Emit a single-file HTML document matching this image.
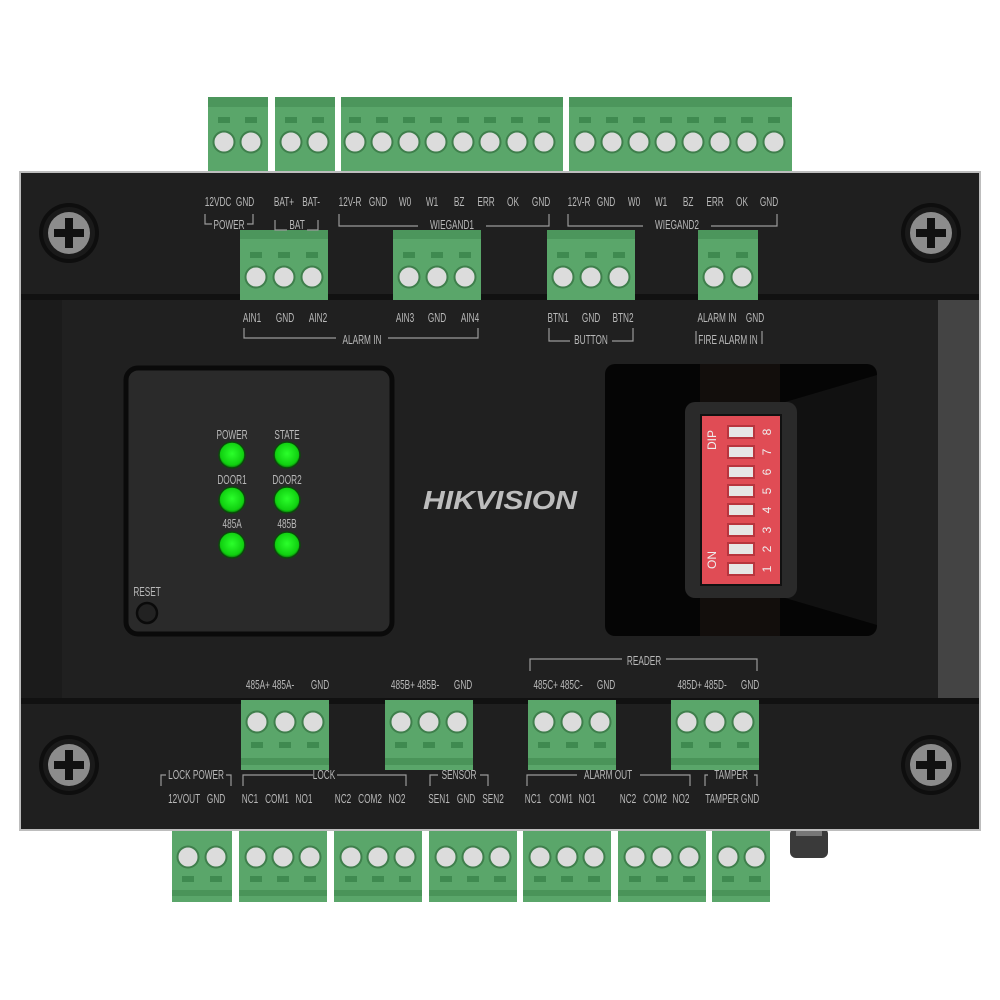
<!DOCTYPE html>
<html><head><meta charset="utf-8"><style>
html,body{margin:0;padding:0;background:#fff;width:1000px;height:1000px;overflow:hidden}
svg{display:block}
.t text{font-family:"Liberation Sans",sans-serif;font-size:12.5px;fill:#b8b8b8;text-anchor:middle;transform:scaleX(0.66);transform-box:fill-box;transform-origin:center}
.l{fill:none;stroke:#9a9a9a;stroke-width:1.2}
</style></head><body>
<svg width="1000" height="1000" viewBox="0 0 1000 1000" xmlns="http://www.w3.org/2000/svg">
<defs>
<radialGradient id="led" cx="50%" cy="45%" r="55%"><stop offset="0" stop-color="#2bff2b"/><stop offset="0.8" stop-color="#10d010"/><stop offset="1" stop-color="#0a6a0a"/></radialGradient>
<linearGradient id="side" x1="0" x2="1"><stop offset="0" stop-color="#1e1e1e"/><stop offset="0.5" stop-color="#262626"/><stop offset="1" stop-color="#1c1c1c"/></linearGradient>
<g id="c"><circle r="10.5" fill="#dcdcdc" stroke="#3f7f4c" stroke-width="2"/></g>
<g id="sl"><rect x="-6" y="-3" width="12" height="6" fill="#3f8a50"/></g>
<g id="screw"><circle r="30" fill="#0e0e0e"/><circle r="26" fill="#1a1a1a"/><circle r="21" fill="#8c8c8c"/><rect x="-15" y="-4" width="30" height="8" fill="#111"/><rect x="-4" y="-15" width="8" height="30" fill="#111"/></g>
</defs>

<g>
<rect x="208" y="97" width="60" height="76" fill="#5aa66a"/><rect x="275" y="97" width="60" height="76" fill="#5aa66a"/>
<rect x="341" y="97" width="222" height="76" fill="#5aa66a"/><rect x="569" y="97" width="223" height="76" fill="#5aa66a"/>
<g fill="#4c965c"><rect x="208" y="97" width="60" height="10"/><rect x="275" y="97" width="60" height="10"/><rect x="341" y="97" width="222" height="10"/><rect x="569" y="97" width="223" height="10"/></g>
</g>
<g fill="#5aa66a">
<rect x="172" y="828" width="60" height="74"/><rect x="239" y="828" width="88" height="74"/><rect x="334" y="828" width="88" height="74"/><rect x="429" y="828" width="88" height="74"/><rect x="523" y="828" width="88" height="74"/><rect x="618" y="828" width="88" height="74"/><rect x="712" y="828" width="58" height="74"/>
</g>
<g fill="#4a9459"><rect x="172" y="890" width="60" height="6"/><rect x="239" y="890" width="88" height="6"/><rect x="334" y="890" width="88" height="6"/><rect x="429" y="890" width="88" height="6"/><rect x="523" y="890" width="88" height="6"/><rect x="618" y="890" width="88" height="6"/><rect x="712" y="890" width="58" height="6"/></g>
<rect x="790" y="828" width="38" height="30" rx="6" fill="#3a3a3a"/><rect x="796" y="826" width="26" height="10" fill="#777"/>

<rect x="19" y="171" width="962" height="660" fill="#bdbdbd"/>
<rect x="21" y="173" width="958" height="656" fill="#1e1e1e"/>
<rect x="21" y="298" width="958" height="402" fill="#1b1b1b"/>
<rect x="62" y="300" width="876" height="398" fill="#202020"/>
<rect x="938" y="300" width="41" height="398" fill="#444"/>
<rect x="21" y="173" width="958" height="124" fill="#1f1f1f"/>
<rect x="21" y="294" width="958" height="6" fill="#111"/>
<rect x="21" y="700" width="958" height="129" fill="#1f1f1f"/>
<rect x="21" y="698" width="958" height="6" fill="#111"/>

<use href="#screw" x="69" y="233"/><use href="#screw" x="931" y="233"/>
<use href="#screw" x="69" y="765"/><use href="#screw" x="931" y="765"/>

<g fill="#5aa66a"><rect x="240" y="230" width="88" height="70"/><rect x="393" y="230" width="88" height="70"/><rect x="547" y="230" width="88" height="70"/><rect x="698" y="230" width="60" height="70"/></g>
<g fill="#4c965c"><rect x="240" y="230" width="88" height="9"/><rect x="393" y="230" width="88" height="9"/><rect x="547" y="230" width="88" height="9"/><rect x="698" y="230" width="60" height="9"/></g>
<g fill="#5aa66a"><rect x="241" y="700" width="88" height="70"/><rect x="385" y="700" width="88" height="70"/><rect x="528" y="700" width="88" height="70"/><rect x="671" y="700" width="88" height="70"/></g>
<g fill="#4a9459"><rect x="241" y="758" width="88" height="7"/><rect x="385" y="758" width="88" height="7"/><rect x="528" y="758" width="88" height="7"/><rect x="671" y="758" width="88" height="7"/></g>

<g>
<use href="#sl" x="224" y="120"/><use href="#sl" x="251" y="120"/><use href="#sl" x="291" y="120"/><use href="#sl" x="318" y="120"/>
<use href="#sl" x="355" y="120"/><use href="#sl" x="382" y="120"/><use href="#sl" x="409" y="120"/><use href="#sl" x="436" y="120"/><use href="#sl" x="463" y="120"/><use href="#sl" x="490" y="120"/><use href="#sl" x="517" y="120"/><use href="#sl" x="544" y="120"/>
<use href="#sl" x="585" y="120"/><use href="#sl" x="612" y="120"/><use href="#sl" x="639" y="120"/><use href="#sl" x="666" y="120"/><use href="#sl" x="693" y="120"/><use href="#sl" x="720" y="120"/><use href="#sl" x="747" y="120"/><use href="#sl" x="774" y="120"/>
<use href="#c" x="224" y="142"/><use href="#c" x="251" y="142"/><use href="#c" x="291" y="142"/><use href="#c" x="318" y="142"/>
<use href="#c" x="355" y="142"/><use href="#c" x="382" y="142"/><use href="#c" x="409" y="142"/><use href="#c" x="436" y="142"/><use href="#c" x="463" y="142"/><use href="#c" x="490" y="142"/><use href="#c" x="517" y="142"/><use href="#c" x="544" y="142"/>
<use href="#c" x="585" y="142"/><use href="#c" x="612" y="142"/><use href="#c" x="639" y="142"/><use href="#c" x="666" y="142"/><use href="#c" x="693" y="142"/><use href="#c" x="720" y="142"/><use href="#c" x="747" y="142"/><use href="#c" x="774" y="142"/>

<use href="#sl" x="256" y="255"/><use href="#sl" x="284" y="255"/><use href="#sl" x="312" y="255"/>
<use href="#sl" x="409" y="255"/><use href="#sl" x="437" y="255"/><use href="#sl" x="465" y="255"/>
<use href="#sl" x="563" y="255"/><use href="#sl" x="591" y="255"/><use href="#sl" x="619" y="255"/>
<use href="#sl" x="714" y="255"/><use href="#sl" x="742" y="255"/>
<use href="#c" x="256" y="277"/><use href="#c" x="284" y="277"/><use href="#c" x="312" y="277"/>
<use href="#c" x="409" y="277"/><use href="#c" x="437" y="277"/><use href="#c" x="465" y="277"/>
<use href="#c" x="563" y="277"/><use href="#c" x="591" y="277"/><use href="#c" x="619" y="277"/>
<use href="#c" x="714" y="277"/><use href="#c" x="742" y="277"/>

<use href="#c" x="257" y="722"/><use href="#c" x="285" y="722"/><use href="#c" x="313" y="722"/>
<use href="#c" x="401" y="722"/><use href="#c" x="429" y="722"/><use href="#c" x="457" y="722"/>
<use href="#c" x="544" y="722"/><use href="#c" x="572" y="722"/><use href="#c" x="600" y="722"/>
<use href="#c" x="687" y="722"/><use href="#c" x="715" y="722"/><use href="#c" x="743" y="722"/>
<use href="#sl" x="257" y="745"/><use href="#sl" x="285" y="745"/><use href="#sl" x="313" y="745"/>
<use href="#sl" x="401" y="745"/><use href="#sl" x="429" y="745"/><use href="#sl" x="457" y="745"/>
<use href="#sl" x="544" y="745"/><use href="#sl" x="572" y="745"/><use href="#sl" x="600" y="745"/>
<use href="#sl" x="687" y="745"/><use href="#sl" x="715" y="745"/><use href="#sl" x="743" y="745"/>

<use href="#c" x="188" y="857"/><use href="#c" x="216" y="857"/>
<use href="#c" x="256" y="857"/><use href="#c" x="283" y="857"/><use href="#c" x="310" y="857"/>
<use href="#c" x="351" y="857"/><use href="#c" x="378" y="857"/><use href="#c" x="405" y="857"/>
<use href="#c" x="446" y="857"/><use href="#c" x="473" y="857"/><use href="#c" x="500" y="857"/>
<use href="#c" x="540" y="857"/><use href="#c" x="567" y="857"/><use href="#c" x="594" y="857"/>
<use href="#c" x="635" y="857"/><use href="#c" x="662" y="857"/><use href="#c" x="689" y="857"/>
<use href="#c" x="728" y="857"/><use href="#c" x="755" y="857"/>
<use href="#sl" x="188" y="879"/><use href="#sl" x="216" y="879"/>
<use href="#sl" x="256" y="879"/><use href="#sl" x="283" y="879"/><use href="#sl" x="310" y="879"/>
<use href="#sl" x="351" y="879"/><use href="#sl" x="378" y="879"/><use href="#sl" x="405" y="879"/>
<use href="#sl" x="446" y="879"/><use href="#sl" x="473" y="879"/><use href="#sl" x="500" y="879"/>
<use href="#sl" x="540" y="879"/><use href="#sl" x="567" y="879"/><use href="#sl" x="594" y="879"/>
<use href="#sl" x="635" y="879"/><use href="#sl" x="662" y="879"/><use href="#sl" x="689" y="879"/>
<use href="#sl" x="728" y="879"/><use href="#sl" x="755" y="879"/>
</g>

<rect x="126" y="368" width="266" height="266" rx="12" fill="#2a2a2a" stroke="#0a0a0a" stroke-width="5"/>
<g class="t">
<text x="232" y="439">POWER</text><text x="287" y="439">STATE</text>
<text x="232" y="484">DOOR1</text><text x="287" y="484">DOOR2</text>
<text x="232" y="528">485A</text><text x="287" y="528">485B</text>
<text x="147" y="596">RESET</text>
</g>
<g fill="url(#led)" stroke="#0b4a0b" stroke-width="1.5">
<circle cx="232" cy="455" r="13"/><circle cx="287" cy="455" r="13"/>
<circle cx="232" cy="500" r="13"/><circle cx="287" cy="500" r="13"/>
<circle cx="232" cy="545" r="13"/><circle cx="287" cy="545" r="13"/>
</g>
<circle cx="147" cy="613" r="10" fill="#222" stroke="#0a0a0a" stroke-width="2.5"/>

<text x="500" y="509" textLength="154" lengthAdjust="spacingAndGlyphs" style="font-family:'Liberation Sans',sans-serif;font-weight:bold;font-style:italic;font-size:26px;fill:#bdbdbd;text-anchor:middle">HIKVISION</text>

<rect x="605" y="364" width="272" height="272" rx="10" fill="#050505"/>
<polygon points="775,405 877,375 877,625 775,595" fill="#111"/>
<rect x="700" y="364" width="80" height="40" fill="#120e0c"/><rect x="700" y="596" width="80" height="40" fill="#120e0c"/>
<rect x="685" y="402" width="112" height="196" rx="10" fill="#2a2a2a"/>
<rect x="700" y="414" width="82" height="172" fill="#111"/>
<rect x="702" y="416" width="78" height="168" fill="#e04c55"/>
<g fill="#e6e6e6" stroke="#b8353e" stroke-width="2">
<rect x="728" y="426" width="26" height="12"/><rect x="728" y="446" width="26" height="12"/><rect x="728" y="466" width="26" height="12"/><rect x="728" y="485" width="26" height="12"/>
<rect x="728" y="504" width="26" height="12"/><rect x="728" y="524" width="26" height="12"/><rect x="728" y="543" width="26" height="12"/><rect x="728" y="563" width="26" height="12"/>
</g>
<g style="font-family:'Liberation Sans',sans-serif;font-size:12px;fill:#eee;text-anchor:middle">
<text transform="translate(771,432) rotate(-90)">8</text><text transform="translate(771,452) rotate(-90)">7</text><text transform="translate(771,472) rotate(-90)">6</text><text transform="translate(771,491) rotate(-90)">5</text>
<text transform="translate(771,510) rotate(-90)">4</text><text transform="translate(771,530) rotate(-90)">3</text><text transform="translate(771,549) rotate(-90)">2</text><text transform="translate(771,569) rotate(-90)">1</text>
<text transform="translate(716,440) rotate(-90)">DIP</text><text transform="translate(716,560) rotate(-90)">ON</text>
</g>

<g class="t">
<text x="218" y="206">12VDC</text><text x="245" y="206">GND</text>
<text x="284" y="206">BAT+</text><text x="311" y="206">BAT-</text>
<text x="350" y="206">12V-R</text><text x="378" y="206">GND</text><text x="405" y="206">W0</text><text x="432" y="206">W1</text><text x="459" y="206">BZ</text><text x="486" y="206">ERR</text><text x="513" y="206">OK</text><text x="541" y="206">GND</text>
<text x="579" y="206">12V-R</text><text x="606" y="206">GND</text><text x="634" y="206">W0</text><text x="661" y="206">W1</text><text x="688" y="206">BZ</text><text x="715" y="206">ERR</text><text x="742" y="206">OK</text><text x="769" y="206">GND</text>
<text x="229" y="229">POWER</text><text x="297" y="229">BAT</text><text x="452" y="229">WIEGAND1</text><text x="677" y="229">WIEGAND2</text>
<text x="252" y="322">AIN1</text><text x="285" y="322">GND</text><text x="318" y="322">AIN2</text>
<text x="405" y="322">AIN3</text><text x="437" y="322">GND</text><text x="470" y="322">AIN4</text>
<text x="558" y="322">BTN1</text><text x="591" y="322">GND</text><text x="623" y="322">BTN2</text>
<text x="717" y="322">ALARM IN</text><text x="755" y="322">GND</text>
<text x="362" y="344">ALARM IN</text><text x="591" y="344">BUTTON</text><text x="728" y="344">FIRE ALARM IN</text>
<text x="644" y="665">READER</text>
<text x="270" y="689">485A+ 485A-</text><text x="320" y="689">GND</text>
<text x="415" y="689">485B+ 485B-</text><text x="463" y="689">GND</text>
<text x="558" y="689">485C+ 485C-</text><text x="606" y="689">GND</text>
<text x="702" y="689">485D+ 485D-</text><text x="750" y="689">GND</text>
<text x="196" y="779">LOCK POWER</text><text x="324" y="779">LOCK</text><text x="459" y="779">SENSOR</text><text x="608" y="779">ALARM OUT</text><text x="731" y="779">TAMPER</text>
<text x="184" y="803">12VOUT</text><text x="216" y="803">GND</text><text x="250" y="803">NC1</text><text x="277" y="803">COM1</text><text x="304" y="803">NO1</text>
<text x="343" y="803">NC2</text><text x="370" y="803">COM2</text><text x="397" y="803">NO2</text>
<text x="439" y="803">SEN1</text><text x="466" y="803">GND</text><text x="493" y="803">SEN2</text>
<text x="533" y="803">NC1</text><text x="561" y="803">COM1</text><text x="587" y="803">NO1</text>
<text x="628" y="803">NC2</text><text x="655" y="803">COM2</text><text x="681" y="803">NO2</text>
<text x="722" y="803">TAMPER</text><text x="750" y="803">GND</text>
</g>
<g class="l">
<path d="M205 214 V224 H212 M247 224 H253 V214"/>
<path d="M275 220 V230 H287 M307 230 H318 V220"/>
<path d="M339 214 V226 H418 M486 226 H549 V214"/>
<path d="M568 214 V226 H643 M711 226 H777 V214"/>
<path d="M244 328 V338 H336 M388 338 H478 V328"/>
<path d="M549 328 V341 H570 M612 341 H633 V328"/>
<path d="M696 331 V344 M762 331 V344"/>
<path d="M530 671 V659 H622 M666 659 H757 V671"/>
<path d="M161 786 V775 H166 M226 775 H231 V786"/>
<path d="M243 786 V775 H313 M337 775 H406 V786"/>
<path d="M430 786 V775 H438 M480 775 H488 V786"/>
<path d="M527 786 V775 H577 M640 775 H690 V786"/>
<path d="M705 786 V775 H708 M754 775 H757 V786"/>
</g>
</svg>
</body></html>
